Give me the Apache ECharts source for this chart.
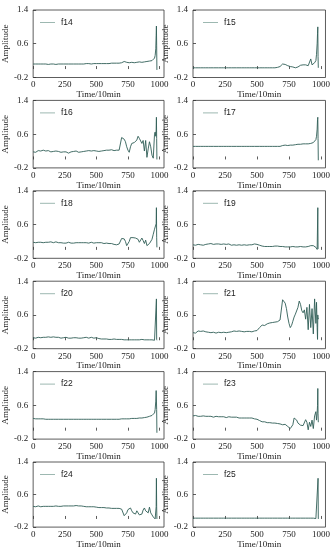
<!DOCTYPE html>
<html><head><meta charset="utf-8">
<script src="https://cdn.jsdelivr.net/npm/echarts@6/dist/echarts.min.js"></script>
<style>html,body{margin:0;padding:0;background:#fff}#c{width:333px;height:550px}</style>
</head><body><div id="c"></div>
<script>
const t = [0,10,20,30,40,50,60,70,80,90,100,110,120,130,140,150,160,170,180,190,200,210,220,230,240,250,260,270,280,290,300,310,320,330,340,350,360,370,380,390,400,410,420,430,440,450,460,470,480,490,500,510,520,530,540,550,560,570,580,590,600,610,620,630,640,650,660,670,680,690,700,710,720,730,740,750,760,770,780,790,800,810,820,830,840,850,860,870,880,890,900,910,920,930,940,950,960,965,970,973,975,977,979];
const names = ['f14','f15','f16','f17','f18','f19','f20','f21','f22','f23','f24','f25'];
const xTicks = [0,250,500,750,1000];
const yTicks = [-0.2,0.6,1.4];

const f14 = [0.12,0.12,0.12,0.11,0.12,0.12,0.12,0.11,0.12,0.12,
0.12,0.12,0.11,0.12,0.12,0.12,0.12,0.12,0.11,0.12,
0.12,0.12,0.12,0.12,0.12,0.12,0.12,0.12,0.12,0.12,
0.12,0.12,0.12,0.12,0.12,0.12,0.12,0.12,0.12,0.12,
0.12,0.12,0.13,0.12,0.13,0.13,0.12,0.13,0.13,0.13,
0.13,0.13,0.13,0.13,0.13,0.13,0.13,0.13,0.13,0.13,
0.13,0.13,0.14,0.13,0.14,0.14,0.14,0.14,0.14,0.14,
0.15,0.17,0.18,0.17,0.16,0.15,0.15,0.15,0.16,0.15,
0.15,0.16,0.16,0.16,0.17,0.16,0.16,0.17,0.17,0.17,
0.18,0.18,0.19,0.19,0.2,0.22,0.26,
0.32,0.48,0.8,1.02,0.55,-0.02];
const f15 = [0.03,0.03,0.03,0.03,0.03,0.03,0.03,0.03,0.03,0.03,
0.03,0.03,0.03,0.03,0.03,0.03,0.03,0.03,0.03,0.03,
0.03,0.03,0.03,0.03,0.03,0.03,0.03,0.03,0.03,0.03,
0.03,0.03,0.03,0.03,0.03,0.03,0.03,0.03,0.03,0.03,
0.03,0.03,0.03,0.03,0.03,0.03,0.03,0.03,0.03,0.03,
0.03,0.03,0.03,0.03,0.03,0.03,0.03,0.03,0.03,0.03,
0.03,0.03,0.03,0.03,0.03,0.04,0.04,0.05,0.06,0.08,
0.12,0.13,0.11,0.09,0.08,0.07,0.06,0.05,0.05,0.04,
0.03,0.04,0.05,0.07,0.09,0.11,0.1,0.09,0.1,0.09,
0.08,0.1,0.24,0.1,0.12,0.15,0.2,
0.35,0.6,0.85,1.0,0.3,0.03];
const f16 = [0.18,0.2,0.17,0.19,0.21,0.18,0.2,0.19,0.22,0.18,
0.2,0.17,0.21,0.19,0.18,0.21,0.19,0.17,0.2,0.18,
0.19,0.2,0.17,0.19,0.18,0.16,0.18,0.17,0.15,0.17,
0.18,0.16,0.19,0.17,0.2,0.18,0.17,0.19,0.18,0.2,
0.19,0.18,0.2,0.19,0.21,0.18,0.2,0.19,0.21,0.2,
0.2,0.22,0.19,0.21,0.2,0.22,0.21,0.2,0.22,0.21,
0.22,0.21,0.23,0.22,0.21,0.23,0.22,0.24,0.22,0.23,
0.52,0.53,0.48,0.42,0.3,0.22,0.17,0.3,0.38,0.4,
0.4,0.42,0.46,0.55,0.5,0.47,0.38,0.45,0.2,0.45,
0.05,0.25,0.42,0.3,0.1,0.03,0.6,
0.65,0.55,0.7,1.0,0.5,0.0];
const f17 = [0.31,0.31,0.31,0.31,0.31,0.31,0.31,0.31,0.31,0.31,
0.31,0.31,0.31,0.31,0.31,0.31,0.31,0.31,0.31,0.31,
0.31,0.31,0.31,0.31,0.31,0.31,0.31,0.31,0.31,0.31,
0.31,0.31,0.31,0.31,0.31,0.31,0.31,0.31,0.31,0.31,
0.31,0.31,0.31,0.31,0.31,0.31,0.31,0.31,0.31,0.31,
0.31,0.31,0.31,0.31,0.31,0.31,0.31,0.31,0.31,0.31,
0.31,0.31,0.31,0.31,0.31,0.31,0.31,0.31,0.31,0.32,
0.33,0.33,0.34,0.34,0.33,0.34,0.34,0.35,0.34,0.35,
0.35,0.35,0.36,0.35,0.36,0.36,0.37,0.36,0.37,0.37,
0.37,0.38,0.38,0.39,0.4,0.42,0.47,
0.55,0.72,0.95,1.0,0.5,-0.02];
const f18 = [0.18,0.19,0.17,0.19,0.18,0.2,0.18,0.19,0.17,0.19,
0.18,0.19,0.18,0.17,0.19,0.18,0.17,0.18,0.19,0.17,
0.17,0.16,0.17,0.18,0.16,0.17,0.16,0.17,0.18,0.17,
0.16,0.17,0.16,0.17,0.17,0.16,0.17,0.16,0.17,0.16,
0.17,0.16,0.17,0.18,0.16,0.17,0.18,0.17,0.16,0.17,
0.17,0.16,0.17,0.16,0.17,0.16,0.15,0.16,0.16,0.15,
0.15,0.14,0.15,0.14,0.13,0.14,0.12,0.13,0.14,0.15,
0.27,0.25,0.26,0.2,0.1,0.13,0.2,0.29,0.3,0.29,
0.3,0.28,0.3,0.25,0.18,0.2,0.28,0.22,0.15,0.23,
0.1,0.06,0.15,0.12,0.25,0.37,0.49,
0.45,0.52,0.62,1.0,0.3,0.06];
const f19 = [0.12,0.14,0.11,0.15,0.13,0.16,0.12,0.15,0.11,0.14,
0.13,0.11,0.14,0.12,0.15,0.12,0.13,0.11,0.14,0.12,
0.14,0.11,0.13,0.12,0.14,0.11,0.13,0.12,0.14,0.12,
0.11,0.13,0.12,0.14,0.11,0.13,0.12,0.13,0.11,0.14,
0.12,0.13,0.11,0.13,0.12,0.14,0.12,0.13,0.14,0.12,
0.13,0.12,0.11,0.1,0.09,0.1,0.08,0.09,0.08,0.09,
0.08,0.09,0.08,0.08,0.09,0.08,0.09,0.08,0.08,0.09,
0.08,0.08,0.07,0.08,0.07,0.08,0.07,0.07,0.08,0.07,
0.07,0.08,0.07,0.07,0.08,0.07,0.07,0.08,0.07,0.08,
0.08,0.09,0.1,0.11,0.1,0.07,0.06,
0.05,0.01,0.0,1.0,0.02,0.01];
const f20 = [0.06,0.07,0.05,0.08,0.07,0.09,0.06,0.08,0.07,0.09,
0.07,0.06,0.08,0.05,0.07,0.06,0.08,0.06,0.07,0.05,
0.07,0.06,0.05,0.07,0.06,0.05,0.07,0.06,0.05,0.06,
0.05,0.07,0.06,0.05,0.06,0.07,0.05,0.06,0.05,0.06,
0.06,0.05,0.07,0.06,0.05,0.06,0.07,0.06,0.05,0.07,
0.06,0.07,0.04,0.03,0.03,0.02,0.03,0.02,0.03,0.02,
0.02,0.03,0.02,0.02,0.03,0.02,0.02,0.02,0.02,0.02,
0.02,0.02,0.01,0.02,0.01,0.01,0.01,0.01,0.01,0.01,
0.01,0.01,0.01,0.02,0.01,0.01,0.02,0.01,0.01,0.01,
0.01,0.01,0.01,0.01,0.01,0.01,0.0,
0.0,-0.01,0.0,0.98,0.02,0.0];
const f21 = [0.18,0.21,0.17,0.2,0.22,0.18,0.21,0.19,0.22,0.18,
0.2,0.23,0.19,0.21,0.18,0.22,0.19,0.2,0.17,0.21,
0.19,0.21,0.18,0.22,0.19,0.2,0.18,0.21,0.19,0.22,
0.2,0.19,0.22,0.2,0.21,0.19,0.22,0.2,0.21,0.23,
0.2,0.22,0.21,0.23,0.21,0.22,0.2,0.23,0.22,0.21,
0.23,0.26,0.3,0.33,0.36,0.39,0.35,0.37,0.39,0.38,
0.41,0.4,0.42,0.41,0.43,0.45,0.44,0.46,0.48,0.5,
0.96,0.93,0.88,0.75,0.55,0.4,0.3,0.35,0.45,0.55,
0.62,0.6,0.78,0.93,0.85,0.7,0.65,0.72,0.5,0.78,
0.25,0.85,0.3,0.75,0.15,0.98,0.4,
0.9,0.3,0.02,0.6,0.5,0.52];
const f22 = [0.29,0.29,0.28,0.28,0.28,0.28,0.28,0.28,0.28,0.28,
0.27,0.27,0.27,0.27,0.27,0.27,0.27,0.27,0.27,0.27,
0.27,0.27,0.27,0.27,0.27,0.27,0.27,0.27,0.27,0.27,
0.27,0.27,0.27,0.27,0.27,0.27,0.27,0.27,0.27,0.27,
0.27,0.27,0.27,0.27,0.27,0.27,0.27,0.27,0.27,0.27,
0.27,0.27,0.27,0.27,0.27,0.27,0.27,0.27,0.27,0.27,
0.27,0.27,0.27,0.27,0.27,0.27,0.27,0.27,0.27,0.27,
0.28,0.28,0.28,0.28,0.28,0.28,0.28,0.29,0.29,0.29,
0.29,0.29,0.29,0.3,0.3,0.3,0.3,0.31,0.31,0.31,
0.32,0.33,0.34,0.35,0.36,0.38,0.42,
0.5,0.7,0.95,0.98,0.5,-0.05];
const f23 = [0.35,0.34,0.36,0.35,0.34,0.35,0.34,0.33,0.35,0.34,
0.34,0.33,0.34,0.33,0.34,0.33,0.32,0.33,0.34,0.33,
0.33,0.32,0.33,0.32,0.33,0.32,0.31,0.32,0.33,0.32,
0.32,0.31,0.32,0.31,0.32,0.31,0.3,0.31,0.3,0.31,
0.3,0.31,0.3,0.29,0.3,0.29,0.3,0.29,0.28,0.28,
0.27,0.26,0.24,0.22,0.21,0.2,0.21,0.2,0.19,0.2,
0.19,0.19,0.18,0.19,0.18,0.17,0.17,0.16,0.16,0.15,
0.14,0.14,0.15,0.14,0.1,0.06,0.05,0.06,0.14,0.3,
0.31,0.25,0.18,0.14,0.13,0.1,0.12,0.16,0.26,0.2,
0.02,0.2,0.1,0.25,0.05,0.35,0.45,
0.25,0.42,0.6,1.0,0.4,0.2];
const f24 = [0.31,0.31,0.3,0.31,0.32,0.31,0.3,0.31,0.31,0.3,
0.31,0.3,0.31,0.32,0.31,0.3,0.31,0.31,0.32,0.31,
0.31,0.32,0.31,0.32,0.32,0.31,0.32,0.33,0.32,0.32,
0.32,0.33,0.32,0.32,0.33,0.32,0.32,0.31,0.32,0.31,
0.31,0.31,0.3,0.31,0.3,0.31,0.3,0.3,0.3,0.29,
0.29,0.29,0.28,0.28,0.28,0.27,0.28,0.27,0.27,0.27,
0.27,0.27,0.26,0.27,0.26,0.26,0.26,0.25,0.26,0.26,
0.24,0.22,0.08,0.08,0.15,0.23,0.25,0.27,0.2,0.15,
0.12,0.12,0.2,0.15,0.1,0.08,0.12,0.22,0.27,0.2,
0.23,0.15,0.29,0.15,0.1,0.05,0.02,
0.0,-0.02,0.3,1.0,0.3,0.0];
const f25 = [0.02,0.02,0.02,0.02,0.02,0.02,0.02,0.02,0.02,0.02,
0.02,0.02,0.02,0.02,0.02,0.02,0.02,0.02,0.02,0.02,
0.02,0.02,0.02,0.02,0.02,0.02,0.02,0.02,0.02,0.02,
0.02,0.02,0.02,0.02,0.02,0.02,0.02,0.02,0.02,0.02,
0.02,0.02,0.02,0.02,0.02,0.02,0.02,0.02,0.02,0.02,
0.02,0.02,0.02,0.02,0.02,0.02,0.02,0.02,0.02,0.02,
0.02,0.02,0.02,0.02,0.02,0.02,0.02,0.02,0.02,0.02,
0.02,0.02,0.02,0.02,0.02,0.02,0.02,0.02,0.02,0.02,
0.02,0.02,0.02,0.02,0.02,0.02,0.02,0.02,0.02,0.02,
0.02,0.02,0.02,0.02,0.02,0.01,0.01,
0.01,0.0,0.0,0.0,1.0,0.0];

const seriesValues = [f14,f15,f16,f17,f18,f19,f20,f21,f22,f23,f24,f25];

const serif = 'Liberation Serif';
const lineColor = '#2f5d56';
const grids = [], xAxes = [], yAxes = [], series = [], legends = [];
names.forEach((nm, i) => {
  const col = i % 2, row = Math.floor(i / 2);
  const left = col ? 193 : 28;
  const width = col ? 135.5 : 136;
  const top = 10 + 90.4 * row;
  grids.push({left: left, top: top, width: width, height: 67.5, show: true,
    borderColor: '#333', borderWidth: 0.8, backgroundColor: 'transparent'});
  xAxes.push({type: 'value', gridIndex: i, min: 0, max: 1035,
    name: 'Time/10min', nameLocation: 'middle', nameGap: 10,
    nameTextStyle: {fontFamily: serif, fontSize: 9, color: '#222'},
    axisLine: {show: false}, splitLine: {show: false},
    axisTick: {show: true, inside: true, length: 3, customValues: xTicks, lineStyle: {color: '#333', width: 0.8}},
    axisLabel: {customValues: xTicks, margin: 3, fontFamily: serif, fontSize: 9, color: '#222',
      formatter: v => String(v)}});
  yAxes.push({type: 'value', gridIndex: i, min: -0.2, max: 1.4,
    name: 'Amplitude', nameLocation: 'middle', nameGap: 17, nameRotate: 90,
    nameTextStyle: {fontFamily: serif, fontSize: 9, color: '#222'},
    axisLine: {show: false}, splitLine: {show: false},
    axisTick: {show: true, inside: true, length: 3, customValues: yTicks, lineStyle: {color: '#333', width: 0.8}},
    axisLabel: {customValues: yTicks, margin: 5, fontFamily: serif, fontSize: 9, color: '#222',
      formatter: v => v.toFixed(1)}});
  series.push({type: 'line', name: nm, xAxisIndex: i, yAxisIndex: i,
    data: t.map((x, j) => [x, seriesValues[i][j]]),
    showSymbol: false, symbol: 'none', animation: false, silent: true,
    lineStyle: {width: 0.9, color: lineColor}, itemStyle: {color: lineColor}});
  legends.push({data: [nm], left: col ? 198 : 35, top: top + 3,
    icon: 'rect', itemWidth: 15, itemHeight: 1, itemGap: 4,
    itemStyle: {color: '#9db8b1'},
    textStyle: {fontFamily: 'Liberation Sans', fontSize: 8.5, color: '#222', padding: [0,0,0,1]},
    selectedMode: false});
});

const chart = echarts.init(document.getElementById('c'), null, {renderer: 'canvas'});
chart.setOption({animation: false, grid: grids, xAxis: xAxes, yAxis: yAxes, series: series, legend: legends});
</script></body></html>
